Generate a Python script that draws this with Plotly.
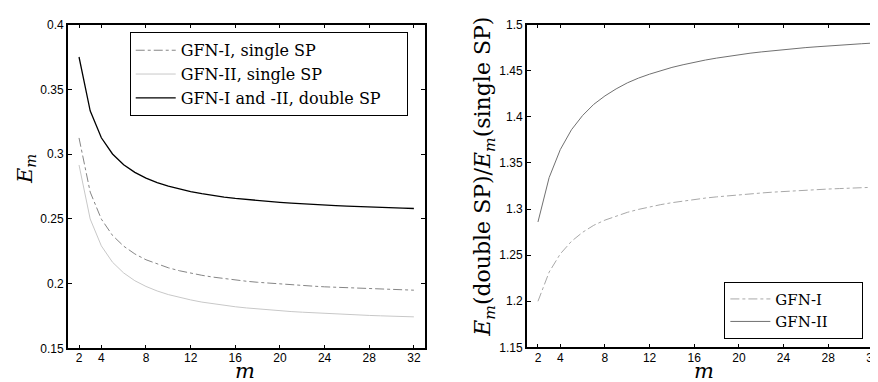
import plotly.graph_objects as go

# ---------------- data ----------------
m_vals = list(range(2, 33))

# Left panel: E_m
gfn1_single = [0.3125, 0.2707, 0.2498, 0.2372, 0.2289, 0.2229, 0.2184, 0.2150,
               0.2122, 0.2099, 0.2080, 0.2064, 0.2050, 0.2038, 0.2028, 0.2018,
               0.2010, 0.2003, 0.1996, 0.1990, 0.1985, 0.1980, 0.1975, 0.1971,
               0.1967, 0.1964, 0.1961, 0.1957, 0.1955, 0.1952, 0.1949]
gfn2_single = [0.2916, 0.2499, 0.2291, 0.2165, 0.2082, 0.2022, 0.1978, 0.1943,
               0.1915, 0.1892, 0.1874, 0.1857, 0.1844, 0.1832, 0.1821, 0.1812,
               0.1804, 0.1797, 0.1790, 0.1784, 0.1779, 0.1774, 0.1769, 0.1765,
               0.1761, 0.1758, 0.1754, 0.1751, 0.1748, 0.1746, 0.1743]
double_sp = [0.3750, 0.3334, 0.3126, 0.3001, 0.2918, 0.2859, 0.2814, 0.2779,
             0.2752, 0.2729, 0.2710, 0.2694, 0.2680, 0.2668, 0.2658, 0.2649,
             0.2641, 0.2633, 0.2627, 0.2621, 0.2615, 0.2611, 0.2606, 0.2602,
             0.2598, 0.2594, 0.2591, 0.2588, 0.2585, 0.2583, 0.2580]

# Right panel: ratio double / single
ratio_gfn1 = [1.2000, 1.2316, 1.2514, 1.2650, 1.2748, 1.2824, 1.2880, 1.2926,
              1.2964, 1.2996, 1.3024, 1.3048, 1.3069, 1.3088, 1.3104, 1.3119,
              1.3132, 1.3144, 1.3155, 1.3165, 1.3174, 1.3183, 1.3191, 1.3198,
              1.3205, 1.3211, 1.3217, 1.3222, 1.3227, 1.3232, 1.3236]
ratio_gfn2 = [1.2860, 1.3341, 1.3645, 1.3860, 1.4015, 1.4136, 1.4227, 1.4303,
              1.4368, 1.4420, 1.4463, 1.4503, 1.4536, 1.4565, 1.4592, 1.4616,
              1.4637, 1.4656, 1.4674, 1.4690, 1.4704, 1.4717, 1.4730, 1.4741,
              1.4751, 1.4760, 1.4770, 1.4778, 1.4786, 1.4793, 1.4800]

x_ticks = [2, 4, 8, 12, 16, 20, 24, 28, 32]
y1_ticks = [0.15, 0.2, 0.25, 0.3, 0.35, 0.4]
y1_labels = ["0.15", "0.2", "0.25", "0.3", "0.35", "0.4"]
y2_ticks = [1.15, 1.2, 1.25, 1.3, 1.35, 1.4, 1.45, 1.5]
y2_labels = ["1.15", "1.2", "1.25", "1.3", "1.35", "1.4", "1.45", "1.5"]

# ---------------- figure ----------------
W, H = 878, 382
TICKFONT = dict(family="Liberation Sans, Arial, sans-serif", size=12, color="black")
SERIF = "DejaVu Serif, serif"
PAD = "\u00a0"

fig = go.Figure()

fig.add_trace(go.Scatter(x=m_vals, y=gfn1_single, mode="lines", name="GFN-I, single SP",
                         line=dict(color="#858585", width=1, dash="dashdot"),
                         xaxis="x", yaxis="y", legend="legend"))
fig.add_trace(go.Scatter(x=m_vals, y=gfn2_single, mode="lines", name="GFN-II, single SP",
                         line=dict(color="#c8c8c8", width=1),
                         xaxis="x", yaxis="y", legend="legend"))
fig.add_trace(go.Scatter(x=m_vals, y=double_sp, mode="lines",
                         name="GFN-I and -II, double SP" + PAD * 4,
                         line=dict(color="black", width=1.3),
                         xaxis="x", yaxis="y", legend="legend"))

fig.add_trace(go.Scatter(x=m_vals, y=ratio_gfn1, mode="lines", name="GFN-I",
                         line=dict(color="#a8a8a8", width=1, dash="dashdot"),
                         xaxis="x2", yaxis="y2", legend="legend2"))
fig.add_trace(go.Scatter(x=m_vals, y=ratio_gfn2, mode="lines", name="GFN-II" + PAD * 6,
                         line=dict(color="#707070", width=1),
                         xaxis="x2", yaxis="y2", legend="legend2"))

axis_common = dict(showline=True, linecolor="black", linewidth=1.5, mirror="ticks",
                   ticks="inside", ticklen=4, tickwidth=1, tickcolor="black",
                   showgrid=False, zeroline=False, tickfont=TICKFONT)

fig.update_layout(
    width=W, height=H,
    margin=dict(l=0, r=0, t=0, b=0),
    paper_bgcolor="white", plot_bgcolor="white",
    xaxis=dict(domain=[60 / W, 418 / W], range=[1, 33], tickvals=x_ticks,
               anchor="y", ticklabelstandoff=-2, **axis_common),
    yaxis=dict(domain=[1 - 346 / H, 1 - 10 / H], range=[0.15, 0.4],
               tickvals=y1_ticks, ticktext=y1_labels, anchor="x", **axis_common),
    xaxis2=dict(domain=[520 / W, 1.0], range=[1, 33], tickvals=x_ticks,
                anchor="y2", ticklabelstandoff=-2, **axis_common),
    yaxis2=dict(domain=[1 - 345 / H, 1 - 10 / H], range=[1.15, 1.5],
                tickvals=y2_ticks, ticktext=y2_labels, anchor="x2", **axis_common),
    legend=dict(x=122 / W, xanchor="left", y=1 - 18 / H, yanchor="top",
                bgcolor="white", bordercolor="black", borderwidth=1,
                font=dict(family=SERIF, size=16, color="black"),
                itemwidth=40, tracegroupgap=0),
    legend2=dict(x=718 / W, xanchor="left", y=1 - 336 / H, yanchor="bottom",
                 bgcolor="white", bordercolor="black", borderwidth=1,
                 font=dict(family=SERIF, size=15, color="black"),
                 itemwidth=40, tracegroupgap=0),
    showlegend=True,
)

label_font = dict(family=SERIF, size=21, color="black")
fig.add_annotation(text="<i>m</i>", x=238 / W, y=1 - 370 / H, xref="paper", yref="paper",
                   showarrow=False, font=label_font, xanchor="center", yanchor="middle")
fig.add_annotation(text="<i>m</i>", x=698 / W, y=1 - 370 / H, xref="paper", yref="paper",
                   showarrow=False, font=label_font, xanchor="center", yanchor="middle")
fig.add_annotation(text="<i>E</i><sub><i>m</i></sub>", x=18 / W, y=1 - 160 / H,
                   xref="paper", yref="paper", showarrow=False, font=label_font,
                   textangle=-90, xanchor="center", yanchor="middle")
fig.add_annotation(text="<i>E</i><sub><i>m</i></sub>(double SP)/<i>E</i><sub><i>m</i></sub>(single SP)",
                   x=478 / W, y=1 - 168 / H, xref="paper", yref="paper", showarrow=False,
                   font=dict(family=SERIF, size=22, color="black"),
                   textangle=-90, xanchor="center", yanchor="middle")

fig.write_html("out.html")
